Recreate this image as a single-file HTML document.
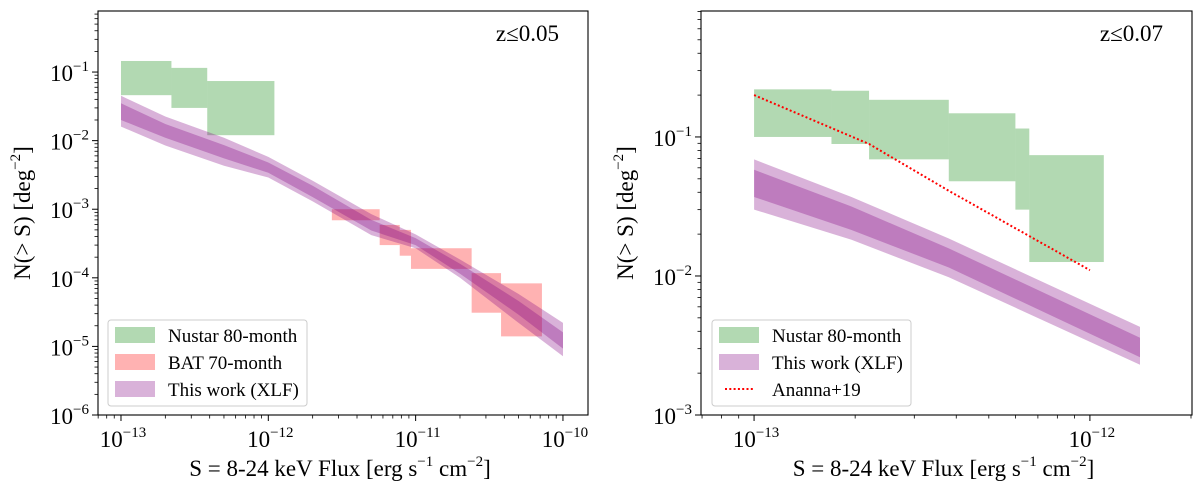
<!DOCTYPE html>
<html><head><meta charset="utf-8">
<style>
body{margin:0;background:#fff;}
svg text{font-family:"Liberation Serif",serif;fill:#000;}
</style></head>
<body>
<svg id="chart" width="1200" height="490" viewBox="0 0 1200 490" xmlns="http://www.w3.org/2000/svg"></svg>
<script>
// ===== Left panel data (z<=0.05) =====
const leftXLim = [-13.156, -9.83];
const leftYLim = [-6, -0.11];
const leftNustarBoxes = [ // [x0, x1, ylo, yhi] in flux / N
  [1e-13, 2.2e-13, 0.046, 0.145],
  [2.2e-13, 3.85e-13, 0.030, 0.115],
  [3.85e-13, 1.1e-12, 0.012, 0.074]
];
const leftBatBoxes = [
  [2.7e-12, 5.7e-12, 6.9e-4, 1.0e-3],
  [5.7e-12, 7.8e-12, 3.0e-4, 5.9e-4],
  [7.8e-12, 9.3e-12, 2.1e-4, 5.0e-4],
  [9.3e-12, 2.4e-11, 1.35e-4, 2.7e-4],
  [2.4e-11, 3.8e-11, 3.1e-5, 1.17e-4],
  [3.8e-11, 7.2e-11, 1.4e-5, 8.3e-5]
];
const leftFlux = [1e-13, 2e-13, 5e-13, 1e-12, 2e-12, 5e-12, 1e-11, 2e-11, 5e-11, 1e-10];
const leftOuterHi = [0.045, 0.0225, 1.1e-2, 5.8e-3, 2.6e-3, 8.5e-4, 4.3e-4, 1.85e-4, 5.8e-5, 2.2e-5];
const leftOuterLo = [0.016, 0.0085, 4.3e-3, 2.9e-3, 1.3e-3, 4.2e-4, 2.7e-4, 1.0e-4, 2.2e-5, 7.2e-6];
const leftInnerHi = [0.035, 0.0175, 8.6e-3, 4.8e-3, 2.2e-3, 7.0e-4, 3.8e-4, 1.6e-4, 4.6e-5, 1.6e-5];
const leftInnerLo = [0.020, 0.0110, 5.5e-3, 3.4e-3, 1.5e-3, 4.9e-4, 3.0e-4, 1.15e-4, 2.9e-5, 9.3e-6];
const leftXTicks = [-13, -12, -11, -10];
const leftYTicks = [-6, -5, -4, -3, -2, -1];

// ===== Right panel data (z<=0.07) =====
const rightXLim = [-13.158, -11.696];
const rightYLim = [-3, -0.094];
const rightNustarBoxes = [
  [1e-13, 1.7e-13, 0.100, 0.22],
  [1.7e-13, 2.2e-13, 0.089, 0.215],
  [2.2e-13, 3.8e-13, 0.069, 0.185],
  [3.8e-13, 6.0e-13, 0.048, 0.148],
  [6.0e-13, 6.6e-13, 0.030, 0.115],
  [6.6e-13, 1.1e-12, 0.0126, 0.074]
];
const rightFlux = [1e-13, 1.95e-13, 3.8e-13, 1.41e-12];
const rightOuterHi = [0.069, 0.037, 0.0186, 0.0043];
const rightOuterLo = [0.030, 0.0182, 0.0098, 0.0023];
const rightInnerHi = [0.058, 0.0316, 0.0158, 0.0036];
const rightInnerLo = [0.037, 0.0214, 0.0115, 0.0026];
const anannaFlux = [1e-13, 2.2e-13, 3.8e-13, 1e-12];
const anannaN = [0.20, 0.089, 0.041, 0.011];
const rightXTicks = [-13, -12];
const rightYTicks = [-3, -2, -1];

const NS = "http://www.w3.org/2000/svg";
const svg = document.getElementById('chart');
function mk(tag, attrs, parent){
  const e = document.createElementNS(NS, tag);
  for (const k in attrs) e.setAttribute(k, attrs[k]);
  (parent||svg).appendChild(e);
  return e;
}
const GREEN = 'rgb(0,128,0)', RED = 'rgb(255,0,0)', PURPLE = 'rgb(128,0,128)';
const FS = 23, SUP = 15;

function panel(cfg){
  const {L, R, T, B, xlim, ylim, name} = cfg;
  const X = v => L + (Math.log10(v) - xlim[0]) / (xlim[1] - xlim[0]) * (R - L);
  const Y = v => B - (Math.log10(v) - ylim[0]) / (ylim[1] - ylim[0]) * (B - T);
  const g = mk('g', {});
  
  
  const clipId = name + '-clip';
  const cp = mk('clipPath', {id: clipId}, g);
  mk('rect', {x: L, y: T, width: R - L, height: B - T}, cp);
  const plot = mk('g', {'clip-path': 'url(#' + clipId + ')'}, g);
  
  
  return {g, plot, X, Y, ...cfg};
}
function boxes(p, arr, color, nm){
  arr.forEach((b, i) => {
    const r = mk('rect', {x: p.X(b[0]), y: p.Y(b[3]), width: p.X(b[1]) - p.X(b[0]), height: p.Y(b[2]) - p.Y(b[3]), fill: color, 'fill-opacity': 0.3}, p.plot);
    
    
  });
}
function band(p, xs, lo, hi, nm){
  let d = xs.map((x, i) => (i ? 'L' : 'M') + p.X(x).toFixed(1) + ',' + p.Y(hi[i]).toFixed(1)).join(' ');
  for (let i = xs.length - 1; i >= 0; i--) d += ' L' + p.X(xs[i]).toFixed(1) + ',' + p.Y(lo[i]).toFixed(1);
  const e = mk('path', {d: d + ' Z', fill: PURPLE, 'fill-opacity': 0.3}, p.plot);
  
  
}
function axes(p, xt, yt, ann){
  const {L, R, T, B, X, Y, g, xlim, ylim} = p;
  for (let d = Math.floor(xlim[0]); d <= Math.ceil(xlim[1]); d++) for (let m = 2; m <= 9; m++) {
    const v = m * Math.pow(10, d), lv = Math.log10(v);
    if (lv < xlim[0] || lv > xlim[1]) continue;
    mk('line', {x1: X(v), x2: X(v), y1: B, y2: B + 3.5, stroke: '#000', 'stroke-width': 0.8}, g);
  }
  for (let d = Math.floor(ylim[0]); d <= Math.ceil(ylim[1]); d++) for (let m = 2; m <= 9; m++) {
    const v = m * Math.pow(10, d), lv = Math.log10(v);
    if (lv < ylim[0] || lv > ylim[1]) continue;
    mk('line', {x1: L - 3.5, x2: L, y1: Y(v), y2: Y(v), stroke: '#000', 'stroke-width': 0.8}, g);
  }
  xt.forEach(e => {
    const x = X(Math.pow(10, e));
    mk('line', {x1: x, x2: x, y1: B, y2: B + 6, stroke: '#000', 'stroke-width': 1}, g);
    const t = mk('text', {x: x + 2, y: B + 32, 'font-size': FS, 'text-anchor': 'middle'}, g);
    
    
    t.innerHTML = '10<tspan dy="-10" font-size="' + SUP + '">\u2212' + (-e) + '</tspan>';
  });
  yt.forEach(e => {
    const y = Y(Math.pow(10, e));
    mk('line', {x1: L - 6, x2: L, y1: y, y2: y, stroke: '#000', 'stroke-width': 1}, g);
    const t = mk('text', {x: L - 9, y: y + 9, 'font-size': FS, 'text-anchor': 'end'}, g);
    
    
    t.innerHTML = '10<tspan dy="-10" font-size="' + SUP + '">\u2212' + (-e) + '</tspan>';
  });
  const fr = mk('rect', {x: L, y: T, width: R - L, height: B - T, fill: 'none', stroke: '#000', 'stroke-width': 1.1}, g);
  
  
  const xl = mk('text', {x: (L + R) / 2 - 3, y: 476, 'font-size': FS, 'text-anchor': 'middle'}, g);
  
  
  xl.innerHTML = 'S = 8-24 keV Flux [erg s<tspan dy="-10" font-size="' + SUP + '">\u22121</tspan><tspan dy="10"> cm</tspan><tspan dy="-10" font-size="' + SUP + '">\u22122</tspan><tspan dy="10">]</tspan>';
  const yl = mk('text', {x: 0, y: 0, 'font-size': FS, 'text-anchor': 'middle', transform: 'translate(' + (L - 68) + ',' + ((T + B) / 2) + ') rotate(-90)'}, g);
  
  
  yl.innerHTML = 'N(&gt; S) [deg<tspan dy="-10" font-size="' + SUP + '">\u22122</tspan><tspan dy="10">]</tspan>';
  const an = mk('text', {x: R - 29, y: T + 30, 'font-size': FS, 'text-anchor': 'end'}, g);
  
  
  an.textContent = ann;
}
function legend(p, x, y, w, h, entries){
  const lg = mk('g', {}, p.g);
  
  
  mk('rect', {x: x, y: y, width: w, height: h, rx: 3, fill: '#fff', 'fill-opacity': 0.8, stroke: '#ccc', 'stroke-width': 1}, lg);
  entries.forEach((en, i) => {
    const cy = y + 15 + i * 27;
    const eg = mk('g', {}, lg);
    
    
    if (en.type === 'patch') mk('rect', {x: x + 7, y: cy - 8, width: 40, height: 16, fill: en.color, 'fill-opacity': 0.3}, eg);
    else mk('line', {x1: x + 13, x2: x + 41, y1: cy, y2: cy, stroke: RED, 'stroke-width': 2, 'stroke-dasharray': '2,2.3'}, eg);
    const t = mk('text', {x: x + 60, y: cy + 7, 'font-size': 19}, eg);
    t.textContent = en.label;
  });
}

// Left panel
const pL = panel({L: 98, R: 588, T: 11, B: 415, xlim: leftXLim, ylim: leftYLim, name: 'left-panel'});
boxes(pL, leftNustarBoxes, GREEN, 'nustar');
boxes(pL, leftBatBoxes, RED, 'bat');
band(pL, leftFlux, leftOuterLo, leftOuterHi, 'xlf-outer-band');
band(pL, leftFlux, leftInnerLo, leftInnerHi, 'xlf-inner-band');
axes(pL, leftXTicks, leftYTicks, 'z\u22640.05');
legend(pL, 108, 320, 199, 86, [
  {type: 'patch', color: GREEN, label: 'Nustar 80-month'},
  {type: 'patch', color: RED, label: 'BAT 70-month'},
  {type: 'patch', color: PURPLE, label: 'This work (XLF)'}
]);

// Right panel
const pR = panel({L: 701, R: 1192, T: 11, B: 415, xlim: rightXLim, ylim: rightYLim, name: 'right-panel'});
boxes(pR, rightNustarBoxes, GREEN, 'nustar');
band(pR, rightFlux, rightOuterLo, rightOuterHi, 'xlf-outer-band');
band(pR, rightFlux, rightInnerLo, rightInnerHi, 'xlf-inner-band');
const ad = anannaFlux.map((x, i) => (i ? 'L' : 'M') + pR.X(x).toFixed(1) + ',' + pR.Y(anannaN[i]).toFixed(1)).join(' ');
const al = mk('path', {d: ad, fill: 'none', stroke: RED, 'stroke-width': 2, 'stroke-dasharray': '2,2.3'}, pR.plot);


axes(pR, rightXTicks, rightYTicks, 'z\u22640.07');
legend(pR, 712, 320, 199, 86, [
  {type: 'patch', color: GREEN, label: 'Nustar 80-month'},
  {type: 'patch', color: PURPLE, label: 'This work (XLF)'},
  {type: 'line', label: 'Ananna+19'}
]);
</script>
</body></html>
